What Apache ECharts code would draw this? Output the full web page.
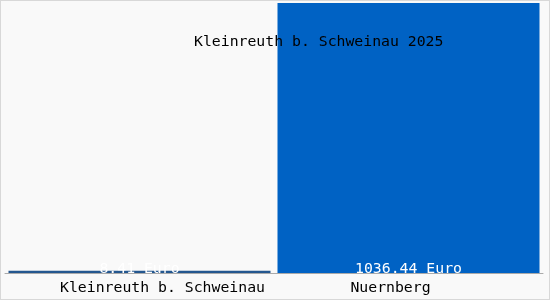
<!DOCTYPE html>
<html><head><meta charset="utf-8">
<script src="https://cdn.jsdelivr.net/npm/echarts@6/dist/echarts.min.js"></script>
<style>
html,body{margin:0;padding:0;background:#fff;}
#c{width:548px;height:298px;border:1px solid #d8d8d8;background:#f9f9f9;}
</style></head><body>
<div id="c"></div>
<script>
const titleText = "Kleinreuth b. Schweinau 2025";
const categories = ["Kleinreuth b. Schweinau", "Nuernberg"];
const values = [8.41, 1036.44];
const barColors = ["#24578f", "#0062c4"];
const unit = "Euro";

const FONT = 'DejaVu Sans Mono';
const FS = 14.8;
const chart = echarts.init(document.getElementById('c'), null, {renderer:'canvas'});
chart.setOption({
  animation:false,
  backgroundColor:'#f9f9f9',
  title:{text:titleText, left:188, top:29,
    textStyle:{fontFamily:FONT, fontSize:FS, fontWeight:'normal', color:'#000'}},
  grid:{left:4, right:6, top:2, bottom:26},
  xAxis:{type:'category',
    data: categories.map((c,i)=>({value:c,
      textStyle:{padding: i===0 ? [0,0,0,46] : [0,36,0,0]}})),
    axisLine:{lineStyle:{color:'#aaaaaa', width:1}},
    axisTick:{show:false},
    axisLabel:{fontFamily:FONT, fontSize:FS, color:'#000', margin:8}},
  yAxis:{type:'value', min:0, max:1036.44, show:false, splitLine:{show:false}},
  series:[{type:'bar', barWidth:262,
    data: values.map((v,i)=>({value:v, itemStyle:{color:barColors[i]}})),
    label:{show:true, position:'insideBottom', distance:-4, color:'#fff',
      fontFamily:FONT, fontSize:FS,
      formatter:p=>p.value.toFixed(2)+' '+unit}
  }]
});
</script></body></html>
